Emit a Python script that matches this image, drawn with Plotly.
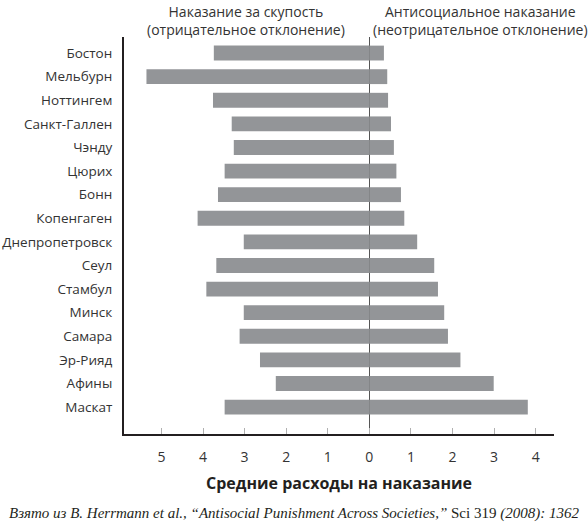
import plotly.graph_objects as go

cities = ["Бостон", "Мельбурн", "Ноттингем", "Санкт-Галлен", "Чэнду", "Цюрих",
          "Бонн", "Копенгаген", "Днепропетровск", "Сеул", "Стамбул", "Минск",
          "Самара", "Эр-Рияд", "Афины", "Маскат"]
# punishment of free-riders (shown to the left of zero)
negative_dev = [3.74, 5.36, 3.76, 3.31, 3.26, 3.48, 3.64, 4.13, 3.02, 3.68,
                3.92, 3.02, 3.12, 2.63, 2.25, 3.48]
# antisocial punishment (shown to the right of zero)
nonnegative_dev = [0.35, 0.43, 0.45, 0.52, 0.59, 0.65, 0.76, 0.84, 1.15, 1.56,
                   1.65, 1.80, 1.89, 2.19, 2.99, 3.81]
tick_vals = [-5, -4, -3, -2, -1, 0, 1, 2, 3, 4]
tick_text = ["5", "4", "3", "2", "1", "0", "1", "2", "3", "4"]

bar_color = "#939598"
text_color = "#333333"
font_family = "Open Sans"

W, H = 588, 530
ML, MR, MT, MB = 124, 34, 37, 96
PW, PH = W - ML - MR, H - MT - MB

fig = go.Figure()
fig.add_trace(go.Bar(
    y=cities, x=[-v for v in negative_dev], orientation="h",
    marker=dict(color=bar_color, line=dict(width=0)), width=0.63,
    name="Наказание за скупость"
))
fig.add_trace(go.Bar(
    y=cities, x=nonnegative_dev, orientation="h",
    marker=dict(color=bar_color, line=dict(width=0)), width=0.63,
    name="Антисоциальное наказание"
))

fig.update_layout(
    width=W, height=H,
    margin=dict(l=ML, r=MR, t=MT, b=MB),
    barmode="overlay",
    showlegend=False,
    plot_bgcolor="white",
    paper_bgcolor="white",
    font=dict(family=font_family, size=14, color=text_color),
)

fig.update_xaxes(
    range=[-5.9, 4.44],
    tickvals=tick_vals, ticktext=tick_text,
    ticks="inside", ticklen=6, tickcolor="#b0b0b0", tickwidth=1,
    ticklabelstandoff=9,
    showline=True, linecolor="#231f20", linewidth=2,
    showgrid=False,
    zeroline=True, zerolinecolor="#555555", zerolinewidth=1,
    layer="above traces",
    tickfont=dict(size=14, color=text_color),
    automargin=False,
    fixedrange=True,
)
fig.update_yaxes(
    range=[16.14, -0.68],
    showline=True, linecolor="#231f20", linewidth=2,
    showgrid=False, ticks="",
    ticklabelstandoff=7,
    tickfont=dict(size=13.5, color=text_color),
    automargin=False,
    fixedrange=True,
)

headers = [
    ("Наказание за скупость<br>(отрицательное отклонение)", 246),
    ("Антисоциальное наказание<br>(неотрицательное отклонение)", 480),
]
for text, px in headers:
    fig.add_annotation(
        text=text, xref="paper", yref="paper",
        x=(px - ML) / PW, y=1 + (MT - 0) / PH,
        xanchor="center", yanchor="top", showarrow=False,
        font=dict(size=14, color=text_color), align="center",
    )

fig.add_annotation(
    text="<b>Средние расходы на наказание</b>",
    xref="paper", yref="paper", x=0.5, y=-(483 - (H - MB)) / PH,
    xanchor="center", yanchor="middle", showarrow=False,
    font=dict(size=16, color="#231f20"),
)
fig.add_annotation(
    text=("<i>Взято из B. Herrmann et al., “Antisocial Punishment Across "
          "Societies,”</i> Sci 319 <i>(2008): 1362</i>"),
    xref="paper", yref="paper", x=(294 - ML) / PW,
    y=-(513 - (H - MB)) / PH,
    xanchor="center", yanchor="middle", showarrow=False,
    font=dict(family="Liberation Serif", size=15, color="#231f20"),
)

# drop the browser's default 8px page margin so the figure sits at the corner
fig.write_html("out.html", config={"displayModeBar": False},
               post_script="document.body.style.margin='0';")
